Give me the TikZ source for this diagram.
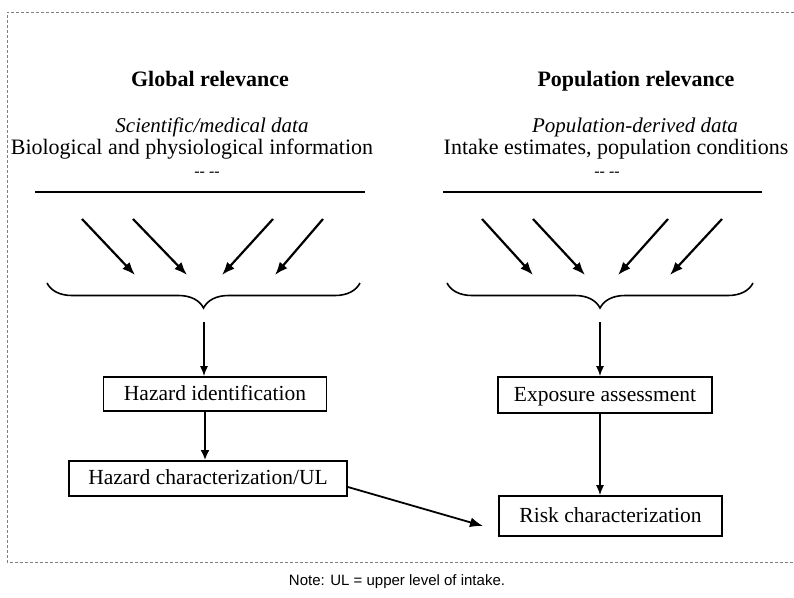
\documentclass[tikz,border=0pt]{standalone}
\usepackage{fontspec}
\setmainfont{Liberation Serif}
\setsansfont{Liberation Sans}
\usetikzlibrary{arrows.meta,decorations.pathreplacing}
\begin{document}
\begin{tikzpicture}[x=1pt,y=-1pt,
  frame/.style={densely dashed,gray,line width=0.8pt},
  txt/.style={inner sep=0pt,anchor=base},
  head/.style={txt,font=\fontsize{22}{22}\selectfont\bfseries},
  sub/.style={txt,font=\fontsize{21}{21}\selectfont\itshape},
  info/.style={txt,font=\fontsize{22}{22}\selectfont},
  rule/.style={line width=1.6pt},
  diag/.style={line width=2.2pt,-{Latex[length=13pt,width=10pt]}},
  vthin/.style={line width=1.3pt,-{Latex[length=10pt,width=8pt]}},
  vthick/.style={line width=2.4pt,-{Latex[length=10pt,width=9pt]}},
  brc/.style={line width=1.6pt,decorate,decoration={brace,mirror,amplitude=25pt}},
  stepbox/.style={draw,line width=1.8pt,inner sep=0pt,text height=14pt,text depth=1.5pt,font=\fontsize{21.5}{21.5}\selectfont},
]
\useasboundingbox (0,0) rectangle (794,597);
\draw[frame] (794,12) -- (7,12) -- (7,562) -- (794,562);

% left column
\node[head] (gl) at (210,86) {Global relevance};
\node[sub] (sl) at (212,132) {Scientific/medical data};
\node[info] (il) at (192,154) {Biological and physiological information};
\node[txt,font=\fontsize{16}{16}\selectfont] (dl) at (207,176) {-{}- -{}-};
\coordinate (l1) at (35,192); \coordinate (l2) at (365,192);
\draw[rule] (l1) -- (l2);
\coordinate (a1s) at (82,219); \coordinate (a1e) at (135,275);
\coordinate (a2s) at (133,219); \coordinate (a2e) at (187,275);
\coordinate (a3s) at (273,219); \coordinate (a3e) at (222,275);
\coordinate (a4s) at (323,219); \coordinate (a4e) at (275,275);
\draw[diag] (a1s) -- (a1e);
\draw[diag] (a2s) -- (a2e);
\draw[diag] (a3s) -- (a3e);
\draw[diag] (a4s) -- (a4e);
\coordinate (b1) at (47,283); \coordinate (b2) at (360,283);
\draw[brc] (b1) -- (b2);
\coordinate (vl) at (204,322);
\node[stepbox,minimum width=223pt,minimum height=34pt] (hi) at (215,394) {Hazard identification};
\node[stepbox,minimum width=278pt,minimum height=35pt] (hc) at (208,478.5) {Hazard characterization/UL};
\draw[vthin] (vl) -- (vl |- hi.north);
\draw[vthick] (hi.south -| 205,0) -- (hc.north -| 205,0);

% right column
\node[head] (gr) at (636,86) {Population relevance};
\node[sub] (sr) at (635,132) {Population-derived data};
\node[info] (ir) at (616,154) {Intake estimates, population conditions};
\node[txt,font=\fontsize{16}{16}\selectfont] (dr) at (607,176) {-{}- -{}-};
\coordinate (r1) at (443,192); \coordinate (r2) at (762,192);
\draw[rule] (r1) -- (r2);
\coordinate (c1s) at (482,219); \coordinate (c1e) at (533,275);
\coordinate (c2s) at (533,219); \coordinate (c2e) at (585,275);
\coordinate (c3s) at (668,219); \coordinate (c3e) at (618,275);
\coordinate (c4s) at (722,219); \coordinate (c4e) at (670,275);
\draw[diag] (c1s) -- (c1e);
\draw[diag] (c2s) -- (c2e);
\draw[diag] (c3s) -- (c3e);
\draw[diag] (c4s) -- (c4e);
\coordinate (d1) at (447,283); \coordinate (d2) at (753,283);
\draw[brc] (d1) -- (d2);
\coordinate (vr) at (600,322);
\node[stepbox,minimum width=214pt,minimum height=36pt] (ea) at (605,395) {Exposure assessment};
\node[stepbox,minimum width=223pt,minimum height=40pt] (rc) at (610.5,516) {Risk characterization};
\draw[vthin] (vr) -- (vr |- ea.north);
\draw[vthin] (ea.south -| 600,0) -- (rc.north -| 600,0);

\coordinate (tip) at (483,526);
\draw[line width=1.8pt,-{Latex[length=13pt,width=10pt]}] (hc.east |- 0,487) -- (tip);

\node[txt,font=\sffamily\fontsize{15}{15}\selectfont] (note) at (397,585) {Note: UL = upper level of intake.};
\end{tikzpicture}
\end{document}
